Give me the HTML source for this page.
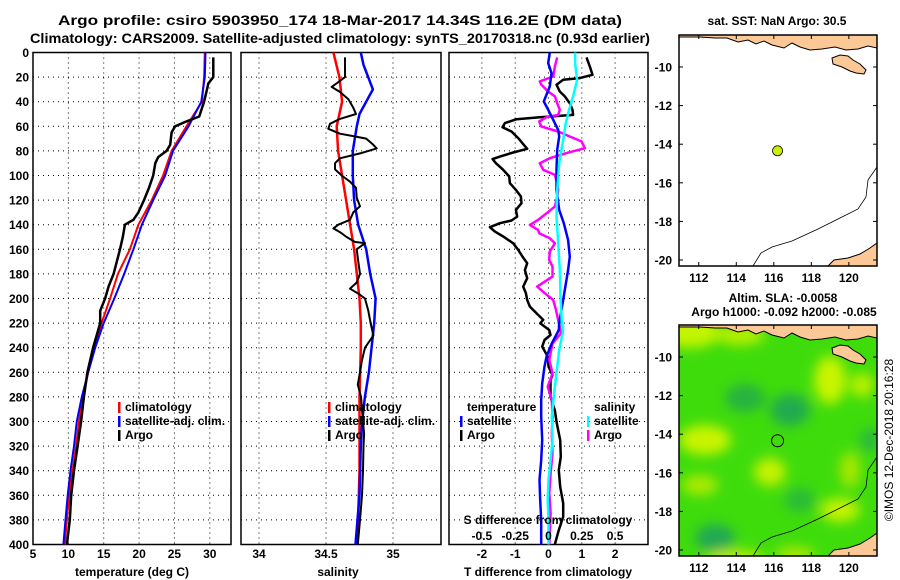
<!DOCTYPE html>
<html><head><meta charset="utf-8">
<style>
html,body{margin:0;padding:0;background:#fff;}
svg{display:block;font-family:"Liberation Sans",Arial,sans-serif;font-weight:bold;}
</style></head>
<body>
<svg id="chart" width="900" height="580" viewBox="0 0 900 580" xmlns="http://www.w3.org/2000/svg">
<defs>
<filter id="blur" x="-50%" y="-50%" width="200%" height="200%"><feGaussianBlur stdDeviation="6"/></filter>
<clipPath id="clipTop"><rect x="679" y="35" width="198" height="231"/></clipPath>
<clipPath id="clipBot"><rect x="679" y="325" width="198" height="231"/></clipPath>
</defs>
<text x="340" y="25" font-size="14" text-anchor="middle" textLength="564" lengthAdjust="spacingAndGlyphs">Argo profile: csiro 5903950_174 18-Mar-2017 14.34S 116.2E (DM data)</text>
<text x="340" y="43" font-size="14" text-anchor="middle" textLength="620" lengthAdjust="spacingAndGlyphs">Climatology: CARS2009. Satellite-adjusted climatology: synTS_20170318.nc (0.93d earlier)</text>
<g id="panels"></g>
<g id="maps"></g>
</svg>
<script>
// ---------- data ----------
const depthTicks = [0,20,40,60,80,100,120,140,160,180,200,220,240,260,280,300,320,340,360,380,400];
const tempTicks = [5,10,15,20,25,30];
const salTicks = [34,34.5,35];
const salTickLabels = ["34","34.5","35"];
const tdiffTicks = [-2,-1,0,1,2];
const sdiffTicks = [-0.5,-0.25,0,0.25,0.5];
const sdiffTickLabels = ["-0.5","-0.25","0","0.25","0.5"];

const climDepth = [0,20,40,60,80,100,120,140,160,180,200,220,240,260,280,300,320,340,360,380,400];
const tempClim = [29.3,29.2,28.9,26.7,24.6,23.4,21.8,19.9,18.7,17.0,15.9,14.7,13.7,12.8,12.1,11.5,11.1,10.6,10.1,9.8,9.5];
const tempSat = [29.4,29.3,28.8,27.0,24.8,23.7,22.0,20.4,19.2,17.9,16.5,15.0,13.8,12.8,11.9,11.2,10.8,10.3,9.9,9.6,9.3];
const argoTDepth = [4,20,25,40,52,56,60,65,75,80,85,90,100,110,120,130,136,140,150,160,180,190,200,210,220,240,260,280,300,320,340,360,380,400];
const tempArgo = [30.5,30.5,29.8,29.2,28.5,26.7,25.1,24.6,24.4,23.9,22.7,22.3,22.0,21.4,20.7,19.9,19.2,18.0,17.7,17.3,16.4,15.7,15.2,14.5,14.5,13.5,12.7,12.2,11.8,11.3,10.8,10.4,10.2,9.8];

const salClim = [34.555,34.6,34.62,34.58,34.59,34.62,34.65,34.68,34.71,34.73,34.75,34.76,34.76,34.755,34.75,34.75,34.75,34.75,34.745,34.74,34.73];
const salSatDepth = [0,10,30,40,50,60,80,100,120,140,160,180,200,220,230,260,280,300,320,360,400];
const salSat = [34.76,34.78,34.85,34.8,34.75,34.73,34.7,34.7,34.71,34.74,34.8,34.83,34.87,34.86,34.85,34.82,34.79,34.77,34.76,34.75,34.72];
const argoSDepth = [4,20,25,28,32,38,45,50,54,58,62,66,68,70,75,78,82,86,90,95,100,105,110,118,125,130,136,140,143,146,150,154,155,160,170,180,187,192,196,200,210,220,224,230,240,250,260,270,280,300,310,320,340,360,380,400];
const salArgo = [34.642,34.642,34.58,34.542,34.604,34.667,34.704,34.724,34.604,34.53,34.517,34.604,34.704,34.80,34.853,34.878,34.754,34.604,34.567,34.567,34.617,34.679,34.724,34.729,34.754,34.704,34.679,34.592,34.555,34.604,34.654,34.716,34.791,34.729,34.741,34.754,34.729,34.679,34.741,34.791,34.816,34.833,34.841,34.854,34.791,34.769,34.754,34.737,34.761,34.776,34.784,34.78,34.776,34.769,34.754,34.737];

const tdArgoDepth = [4,11.3,18.1,20.8,22.2,26.2,31.7,35.7,41.2,46.6,50.7,52.6,54.2,57.4,60.7,64.2,69.6,75.1,78.3,81.3,84.6,86.7,90,95.4,100.8,106.3,111.7,117.1,122.5,128,133.4,136.6,138.8,142,145.6,149.6,155.1,160.5,165.9,171.3,176.8,183.5,190.3,195.7,201.2,206.6,212,217.4,220.2,225.6,229.7,233.7,239.2,247.3,255.4,262.2,266.3,279.8,290.7,301.5,315.1,328.7,339.5,353.1,366.6,377.5,388.3,400];
const tdArgo = [1.14,1.24,1.32,0.94,0.44,0.24,0.34,0.49,0.64,0.72,0.74,-0.26,-0.96,-1.31,-1.38,-1.11,-0.91,-0.74,-0.64,-1.06,-1.46,-1.68,-1.58,-1.36,-1.18,-1.16,-0.98,-0.83,-0.81,-0.98,-0.94,-1.11,-1.46,-1.76,-1.61,-1.36,-1.06,-0.91,-0.78,-0.64,-0.71,-0.64,-0.76,-0.68,-0.64,-0.56,-0.36,-0.16,-0.25,0.02,0.06,-0.12,-0.19,-0.02,0,0.12,0.06,0.06,0.19,0.25,0.35,0.37,0.31,0.35,0.44,0.44,0.31,0.19];
const tdSatDepth = [0,8.6,16.8,27.6,35.7,39.8,46.6,54.7,62.9,68.3,79.1,95.4,111.7,128,138.8,152.4,165.9,176.8,193,209.3,220.1,225.6,236.5,247.3,255.4,269,282.6,296.1,315.1,331.4,347.6,363.9,380.2,400];
const tdSat = [0.04,-0.01,0.09,0.04,-0.08,-0.14,-0.01,0.14,0.29,0.32,0.26,0.24,0.24,0.32,0.46,0.59,0.64,0.59,0.49,0.39,0.32,0.31,0.1,-0.06,-0.12,-0.19,-0.22,-0.22,-0.19,-0.22,-0.27,-0.25,-0.22,-0.22];
const sdSatDepth = [0,8.6,22.2,35.7,46.6,57.4,71,90,111.7,133.4,155.1,176.8,198.5,220.1,225.6,241.9,263.6,279.8,296.1,315.1,331.4,347.6,363.9,380.2,400];
const sdSat = [0.2,0.2,0.215,0.185,0.155,0.13,0.11,0.08,0.065,0.06,0.073,0.085,0.09,0.1,0.11,0.08,0.056,0.04,0.025,0.03,0.016,0,-0.006,0,0];
const sdArgoDepth = [4,11.3,19.5,23.5,26.2,31.7,35.7,41.2,46.6,50.7,52.6,56.1,60.2,64.2,68.3,72.3,77.8,81.8,85.9,90,95.4,99.5,106.3,111.7,117.1,125.2,130.7,136.1,140.2,144.2,146.9,151,155.1,161.8,168.6,174.1,182.2,190.3,195.7,201.2,209.3,220.2,228.3,236.5,250,260.9,271.7,282.6,296.1,309.7,326,342.2,358.5,374.8,400];
const sdArgo = [0.065,0.048,0.035,-0.065,-0.053,-0.003,0.048,0.065,0.085,0.073,-0.015,-0.07,-0.053,0.073,0.16,0.248,0.273,0.135,0.01,-0.065,-0.04,0.048,0.065,0.073,0.065,0.048,-0.015,-0.078,-0.14,-0.078,-0.07,0.01,0.048,0.01,0.005,0.03,0.03,-0.085,-0.028,0.035,0.056,0.078,0.094,0.03,0.006,0.03,-0.006,0.025,0.03,0.025,0.03,0.016,0.006,0.016,0.006];

const lonTicks = [112,114,116,118,120];
const latTicks = [-10,-12,-14,-16,-18,-20];
const argoLon = [116.2];
const argoLat = [-14.34];

// ---------- helpers ----------
const NS = "http://www.w3.org/2000/svg";
function el(tag, attrs, parent){const e=document.createElementNS(NS,tag);for(const k in attrs)e.setAttribute(k,attrs[k]);parent.appendChild(e);return e;}
const Y0=52.5, Y1=544.5;
function yD(d){return Y0+(d/400)*(Y1-Y0);}
function lin(d0,d1,r0,r1){return v=>r0+(v-d0)/(d1-d0)*(r1-r0);}
const panels=document.getElementById('panels');

function frame(x0,x1,name,xTicks,xScale,xLabels){
  const g=el('g',{},panels);
  
  
  depthTicks.forEach(d=>{
    if(d>0&&d<400){const l=el('line',{x1:x0,x2:x1,y1:yD(d),y2:yD(d),stroke:'#000','stroke-width':1,'stroke-dasharray':'1,4'},g);
    }
  });
  xTicks.forEach(v=>{const x=xScale(v);if(x>x0+1&&x<x1-1){const l=el('line',{x1:x,x2:x,y1:Y0,y2:Y1,stroke:'#000','stroke-width':1,'stroke-dasharray':'1,4'},g);
    }});
  const r=el('rect',{x:x0,y:Y0,width:x1-x0,height:Y1-Y0,fill:'none',stroke:'#000','stroke-width':1.5},g);
  
  if(xLabels){xTicks.forEach((v,i)=>{const t=el('text',{x:xScale(v),y:558,'font-size':12,'text-anchor':'middle'},g);t.textContent=xLabels[i];
    });}
  return g;
}
function series(g,depths,vals,xs,color,w,name){
  const p=depths.map((d,i)=>(i?'L':'M')+xs(vals[i]).toFixed(1)+','+yD(d).toFixed(1)).join(' ');
  const e=el('path',{d:p,fill:'none',stroke:color,'stroke-width':w,'stroke-linejoin':'round'},g);
  
}
function label(g,x,y,txt,name,opts){const t=el('text',Object.assign({x:x,y:y,'font-size':12},opts||{}),g);t.textContent=txt;
  return t;}
function legend(g,x,y,color,txt,name){
  const b=el('rect',{x:x,y:y-9,width:2.5,height:11,fill:color},g);
  
  label(g,x+7,y,txt,name);
}

// depth labels
depthTicks.forEach(d=>{const t=el('text',{x:29,y:yD(d)+4.5,'font-size':12,'text-anchor':'end'},panels);t.textContent=d;
  });

// panel 1 temperature
const xT=lin(5,33,33,231);
const g1=frame(33,231,'temperature-panel',tempTicks,xT,tempTicks.map(String));
series(g1,climDepth,tempClim,xT,'#f00',2,'temp-climatology-line');
series(g1,climDepth,tempSat,xT,'#00f',2,'temp-satellite-line');
series(g1,argoTDepth,tempArgo,xT,'#000',2.5,'temp-argo-line');
legend(g1,118,411,'#f00','climatology','legend-climatology');
legend(g1,118,425,'#00f','satellite-adj. clim.','legend-satellite');
legend(g1,118,439,'#000','Argo','legend-argo');
label(g1,132,576,'temperature (deg C)','x-axis-title-temperature',{'text-anchor':'middle'});

// panel 2 salinity
const xS=lin(34,35,259,393);
const g2=frame(241,441,'salinity-panel',salTicks,xS,salTickLabels);
series(g2,climDepth,salClim,xS,'#f00',2.5,'sal-climatology-line');
series(g2,salSatDepth,salSat,xS,'#00f',2.5,'sal-satellite-line');
series(g2,argoSDepth,salArgo,xS,'#000',2,'sal-argo-line');
legend(g2,328,411,'#f00','climatology','legend-climatology-sal');
legend(g2,328,425,'#00f','satellite-adj. clim.','legend-satellite-sal');
legend(g2,328,439,'#000','Argo','legend-argo-sal');
label(g2,338,576,'salinity','x-axis-title-salinity',{'text-anchor':'middle'});

// panel 3 differences
const xTD=lin(0,1,548.5,581.8);
const xSD=lin(0,1,548.5,681.7);
const g3=frame(449,648,'difference-panel',tdiffTicks,xTD,tdiffTicks.map(String));
series(g3,tdArgoDepth,tdArgo,xTD,'#000',2.5,'tdiff-argo-line');
series(g3,sdArgoDepth,sdArgo,xSD,'#f0f',2.5,'sdiff-argo-line');
series(g3,tdSatDepth,tdSat,xTD,'#00f',2.5,'tdiff-satellite-line');
series(g3,sdSatDepth,sdSat,xSD,'#0ff',2.5,'sdiff-satellite-line');
label(g3,467,411,'temperature','legend-temperature-heading');
legend(g3,460,425,'#00f','satellite','legend-t-satellite');
legend(g3,460,439,'#000','Argo','legend-t-argo');
label(g3,594,411,'salinity','legend-salinity-heading');
legend(g3,587,425,'#0ff','satellite','legend-s-satellite');
legend(g3,587,439,'#f0f','Argo','legend-s-argo');
label(g3,548,524,'S difference from climatology','s-diff-axis-title',{'text-anchor':'middle'});
sdiffTicks.forEach((v,i)=>{label(g3,xSD(v),540,sdiffTickLabels[i],'s-diff-tick-label',{'text-anchor':'middle'});});
label(g3,548,576,'T difference from climatology','x-axis-title-tdiff',{'text-anchor':'middle'});

// ---------- maps ----------
const maps=document.getElementById('maps');
const lonX=lin(111,121.5,680,877);
const latY=lin(-10,-20,67,260);
function landShapes(g,dy){
  const land='#fcc896';
  const shapes=[
   'M679,35 L877,35 L877,48 L868,46 L858,49 L846,50 L835,47 L822,49 L810,50 L800,47 L792,43 L784,48 L772,45 L764,41 L756,44 L748,40 L738,42 L727,38 L715,38 L700,37 L679,37 Z',
   'M832,58 L840,55 L848,56 L853,60 L860,64 L866,70 L864,74 L856,73 L850,71 L842,67 L833,64 Z',
   'M828,266 L834,260 L848,258 L860,254 L870,248 L877,243 L877,266 Z'];
  shapes.forEach((s,i)=>{const p=el('path',{d:s,fill:land,stroke:'#000','stroke-width':1,transform:'translate(0,'+dy+')'},g);
    });
  const c=el('path',{d:'M877,167 L868,180 L866,197 L858,209 L840,218 L818,229 L792,241 L772,247 L761,253 L753,266',fill:'none',stroke:'#000','stroke-width':0.8,transform:'translate(0,'+dy+')'},g);
  
}
function mapAxes(g,y0,y1,dy){
  const r=el('rect',{x:679,y:y0,width:198,height:y1-y0,fill:'none',stroke:'#000','stroke-width':1.5},g);
  
  lonTicks.forEach(v=>{const x=lonX(v);
    el('line',{x1:x,x2:x,y1:y1,y2:y1-4,stroke:'#000'},g);el('line',{x1:x,x2:x,y1:y0,y2:y0+4,stroke:'#000'},g);
    label(g,x,y1+16,String(v),'lon-tick-label',{'text-anchor':'middle'});});
  latTicks.forEach(v=>{const y=latY(v)+dy;
    el('line',{x1:679,x2:683,y1:y,y2:y,stroke:'#000'},g);el('line',{x1:877,x2:873,y1:y,y2:y,stroke:'#000'},g);
    label(g,672,y+4.5,String(v),'lat-tick-label',{'text-anchor':'end'});});
}
// top map
const gm1=el('g',{},maps);

label(gm1,777,25,'sat. SST: NaN Argo: 30.5','sst-map-title',{'text-anchor':'middle'});
const gm1c=el('g',{'clip-path':'url(#clipTop)'},gm1);
landShapes(gm1c,0);
mapAxes(gm1,35,266,0);
const m1=el('circle',{cx:lonX(argoLon[0]),cy:latY(argoLat[0]),r:5,fill:'#ccee00',stroke:'#000','stroke-width':0.8},gm1);


// bottom map
const gm2=el('g',{},maps);

label(gm2,783,302,'Altim. SLA: -0.0058','sla-title',{'text-anchor':'middle'});
label(gm2,784,316,'Argo h1000: -0.092 h2000: -0.085','argo-height-title',{'text-anchor':'middle'});
const gm2c=el('g',{'clip-path':'url(#clipBot)'},gm2);
el('rect',{x:679,y:325,width:198,height:231,fill:'#3fdc0c'},gm2c);
const blobG=el('g',{filter:'url(#blur)'},gm2c);
const blobs=[
 [690,332,30,16,'#c4f400'],[740,335,25,10,'#b8f000'],[705,440,26,15,'#c8f400'],[770,472,16,14,'#c4f200'],
 [830,380,16,24,'#c8f400'],[862,385,12,12,'#bcf000'],[840,510,20,12,'#c4f200'],[700,485,18,10,'#aeea00'],
 [735,560,30,10,'#bfee00'],[795,555,20,8,'#b0e800'],[850,470,10,18,'#a8e800'],
 [790,410,20,16,'#22aa50'],[745,398,20,14,'#28b240'],[715,538,20,14,'#22a855'],[800,500,16,12,'#2cbc38'],[870,440,10,12,'#2cb840']];
blobs.forEach(b=>{const e=el('ellipse',{cx:b[0],cy:b[1],rx:b[2],ry:b[3],fill:b[4]},blobG);
  });
landShapes(gm2c,290);
mapAxes(gm2,325,556,290);
const m2=el('circle',{cx:lonX(argoLon[0]),cy:latY(argoLat[0])+290,r:6,fill:'none',stroke:'#000','stroke-width':1},gm2);

const cr=el('text',{x:893,y:440,'font-size':12,'font-weight':'normal','text-anchor':'middle',transform:'rotate(-90 893 440)'},maps);
cr.textContent='©IMOS 12-Dec-2018 20:16:28';

</script>
</body></html>
